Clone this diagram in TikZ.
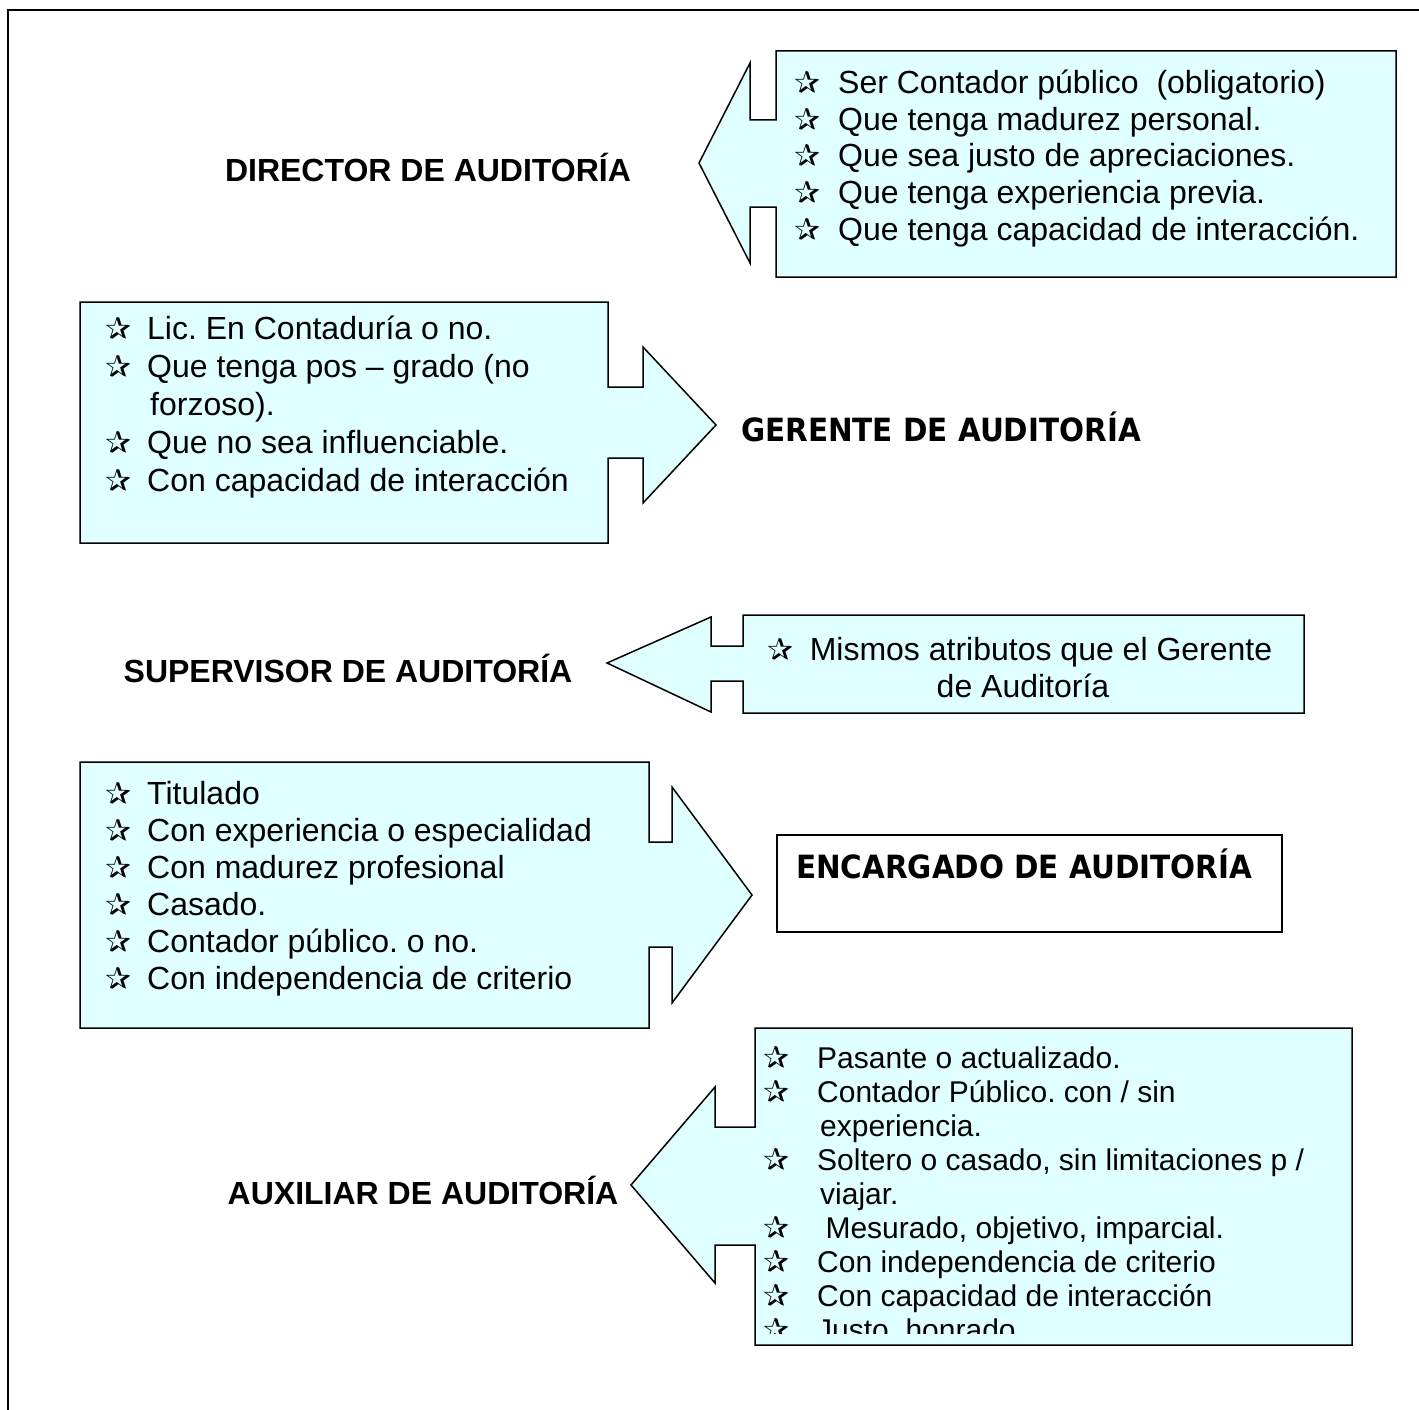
\documentclass[tikz,border=0pt]{standalone}
\usepackage{fontspec}
\setmainfont{Liberation Sans}
\newfontfamily\simbolo{DejaVu Sans}
\newfontfamily\titulo[FakeStretch=0.92]{DejaVu Sans}
\definecolor{celeste}{RGB}{224,255,255}
\frenchspacing
\newlength\sangria
\setlength\sangria{42pt}
\newcommand{\estrella}{\makebox[\sangria][l]{\simbolo\fontsize{31}{31}\selectfont ✰}}
\newcommand{\sigue}{\hspace*{\dimexpr\sangria+3pt\relax}}

\begin{document}
\begin{tikzpicture}[x=1pt,y=-1pt,
            flecha/.style={draw=black, line width=1.5pt, fill=celeste, line join=miter},
            lista/.style={anchor=base west, inner sep=0pt},
            cargo/.style={anchor=base, inner sep=0pt, font=\fontsize{32}{38}\selectfont\bfseries},
            cargot/.style={anchor=base, inner sep=0pt, font=\titulo\fontsize{32}{38}\selectfont\bfseries}]
    \useasboundingbox (0,0) rectangle (1419,1410);
    \draw[line width=2pt] (1419,10) -- (8,10) -- (8,1410);

    \draw[flecha] (776,51) -- (1396,51) -- (1396,277) -- (776,277) -- (776,207) -- (750,207)
        -- (750,263) -- (699,163) -- (750,63) -- (750,120) -- (776,120) -- cycle;
    \node[cargo] (dir) at (428,181.5) {DIRECTOR DE AUDITORÍA};
    \node[lista] (reqdir) at (794,93.5) {\parbox[t]{600pt}{\raggedright\fontsize{32}{36.7}\selectfont
        \setlength\sangria{44pt}%
        \estrella Ser Contador público~ (obligatorio)\\
        \estrella Que tenga madurez personal.\\
        \estrella Que sea justo de apreciaciones.\\
        \estrella Que tenga experiencia previa.\\
        \estrella Que tenga capacidad de interacción.}};

    \draw[flecha] (80,302) -- (608,302) -- (608,387) -- (643,387) -- (643,347) -- (716,425)
        -- (643,503) -- (643,458) -- (608,458) -- (608,543) -- (80,543) -- cycle;
    \node[cargot] (ger) at (941,441.5) {GERENTE DE AUDITORÍA};
    \node[lista] (reqger) at (105,339.5) {\parbox[t]{500pt}{\raggedright\fontsize{32}{38}\selectfont
        \estrella Lic. En Contaduría o no.\\
        \estrella Que tenga pos – grado (no\\
        \sigue forzoso).\\
        \estrella Que no sea influenciable.\\
        \estrella Con capacidad de interacción}};

    \draw[flecha] (743,615) -- (1304,615) -- (1304,713) -- (743,713) -- (743,681) -- (711,681)
        -- (711,712) -- (607,663) -- (711,617) -- (711,646) -- (743,646) -- cycle;
    \node[cargo] (sup) at (348,682.5) {SUPERVISOR DE AUDITORÍA};
    \node[anchor=base, inner sep=0pt] (reqsup) at (1020,660.5) {\parbox[t]{540pt}{\centering\fontsize{32}{37}\selectfont
        \estrella Mismos atributos que el Gerente\\
        \hspace*{6pt}de Auditoría}};

    \draw[flecha] (80,762) -- (649,762) -- (649,842) -- (672,842) -- (672,787) -- (752,895)
        -- (672,1003) -- (672,947) -- (649,947) -- (649,1028) -- (80,1028) -- cycle;
    \node[draw, line width=1.5pt, fill=white, anchor=north west, minimum width=505pt,
        minimum height=97pt] (encbox) at (776,834) {};
    \node[cargot] (enc) at (1024,878) {ENCARGADO DE AUDITORÍA};
    \node[lista] (reqenc) at (105,804.5) {\parbox[t]{540pt}{\raggedright\fontsize{32}{37}\selectfont
        \estrella Titulado\\
        \estrella Con experiencia o especialidad\\
        \estrella Con madurez profesional\\
        \estrella Casado.\\
        \estrella Contador público. o no.\\
        \estrella Con independencia de criterio}};

    \draw[flecha] (755,1028) -- (1352,1028) -- (1352,1345) -- (755,1345) -- (755,1245) -- (715,1245)
        -- (715,1283) -- (631,1185) -- (715,1087) -- (715,1127) -- (755,1127) -- cycle;
    \node[cargo] (aux) at (423,1204.5) {AUXILIAR DE AUDITORÍA};
    \begin{scope}
        \clip (757,1030) rectangle (1350,1333);
        \node[lista] (reqaux) at (763,1068) {\parbox[t]{580pt}{\raggedright\fontsize{30}{34}\selectfont
            \setlength\sangria{54pt}%
            \estrella Pasante o actualizado.\\
            \estrella Contador Público. con / sin\\
            \sigue experiencia.\\
            \estrella Soltero o casado, sin limitaciones p /\\
            \sigue viajar.\\
            \estrella\ Mesurado, objetivo, imparcial.\\
            \estrella Con independencia de criterio\\
            \estrella Con capacidad de interacción\\
            \estrella Justo, honrado.}};
    \end{scope}
\end{tikzpicture}
\end{document}
